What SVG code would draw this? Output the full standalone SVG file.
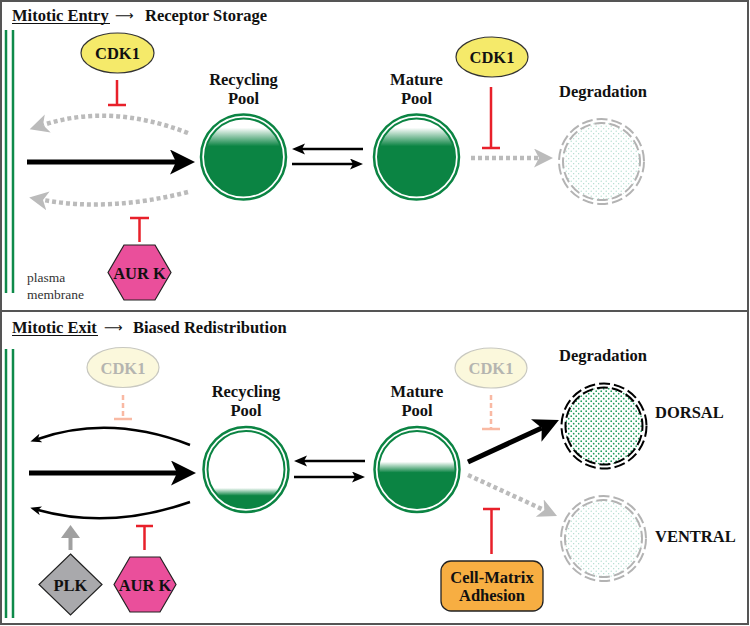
<svg xmlns="http://www.w3.org/2000/svg" width="750" height="626" viewBox="0 0 750 626">
<style>
.t{font-family:"Liberation Serif","Times New Roman",serif;font-weight:bold;font-size:16.5px;fill:#111}
.c{text-anchor:middle}
.arr{font-family:"DejaVu Sans",sans-serif;font-size:13px;fill:#111}
.sm{font-family:"Liberation Serif","Times New Roman",serif;font-size:13.5px;fill:#333}
.mem{stroke:#0e8a4a;stroke-width:2.5;fill:none}
.ring{fill:none;stroke:#0b8443;stroke-width:2.5}
.inner{stroke:#0b8443;stroke-width:2}
.inh{stroke:#e8202a;stroke-width:2.5;fill:none}
.inhf{stroke:#f9b9a3;stroke-width:2.5;fill:none}
.big{stroke:#000;stroke-width:5;fill:none}
.thin{stroke:#000;stroke-width:2.5;fill:none}
.dot{stroke:#bbbbbb;stroke-width:4.5;stroke-dasharray:4 3;fill:none}
.dg{fill:none;stroke:#b3b3b3;stroke-width:2;stroke-dasharray:11 4}
.db{fill:none;stroke:#000;stroke-width:2;stroke-dasharray:11 4}
.cdk{fill:#f5ea6a;stroke:#333;stroke-width:1.2}
.cdkf{fill:#fbf8dc;stroke:#c8c8c0;stroke-width:1.2}
.aur{fill:#ea4f9b;stroke:#222;stroke-width:1.2}
</style>
<defs>
<linearGradient id="gTop" x1="0" y1="0" x2="0" y2="1">
<stop offset="0.12" stop-color="#fff"/><stop offset="0.36" stop-color="#0b8443"/><stop offset="1" stop-color="#0b8443"/>
</linearGradient>
<linearGradient id="gRec2" x1="0" y1="0" x2="0" y2="1">
<stop offset="0.74" stop-color="#fff"/><stop offset="0.84" stop-color="#0b8443"/><stop offset="1" stop-color="#0b8443"/>
</linearGradient>
<linearGradient id="gMat2" x1="0" y1="0" x2="0" y2="1">
<stop offset="0.4" stop-color="#fff"/><stop offset="0.54" stop-color="#0b8443"/><stop offset="1" stop-color="#0b8443"/>
</linearGradient>
<pattern id="stipG" width="5" height="5" patternUnits="userSpaceOnUse">
<rect width="5" height="5" fill="#fff"/>
<circle cx="1.2" cy="1.2" r="0.6" fill="#9fd6c4"/><circle cx="3.7" cy="3.7" r="0.6" fill="#9fd6c4"/>
</pattern>
<pattern id="stipD" width="5" height="5" patternUnits="userSpaceOnUse">
<rect width="5" height="5" fill="#fff"/>
<circle cx="1.2" cy="1.2" r="0.85" fill="#1a9a5a"/><circle cx="3.7" cy="3.7" r="0.85" fill="#1a9a5a"/>
</pattern>
<marker id="bigHead" markerUnits="userSpaceOnUse" markerWidth="26" markerHeight="26" refX="6" refY="12.5" orient="auto">
<path d="M0,0 L25,12.5 L0,25 L6,12.5 z" fill="#000"/>
</marker>
<marker id="smallHead" markerUnits="userSpaceOnUse" markerWidth="14" markerHeight="12" refX="3" refY="5.5" orient="auto">
<path d="M0,0 L13,5.5 L0,11 L3,5.5 z" fill="#000"/>
</marker>
<marker id="arcHead" markerUnits="userSpaceOnUse" markerWidth="12" markerHeight="10" refX="3" refY="4.5" orient="auto">
<path d="M0,0 L11,4.5 L0,9 L3,4.5 z" fill="#000"/>
</marker>
<marker id="greyHead" markerUnits="userSpaceOnUse" markerWidth="20" markerHeight="20" refX="5" refY="9.5" orient="auto">
<path d="M0,0 L19,9.5 L0,19 L5,9.5 z" fill="#bbbbbb"/>
</marker>
</defs>

<rect x="1" y="1" width="747" height="623" fill="#fff" stroke="#555" stroke-width="2"/>
<line x1="1" y1="311" x2="748" y2="311" stroke="#555" stroke-width="2"/>

<!-- Panel 1 -->
<g id="title1">
<text class="t" x="12" y="21">Mitotic Entry</text>
<line x1="12" y1="23.5" x2="110" y2="23.5" stroke="#111" stroke-width="1.2"/>
<text class="arr" x="115" y="20">⟶</text>
<text class="t" x="145" y="21">Receptor Storage</text>
</g>
<g id="membrane1">
<line class="mem" x1="6" y1="30" x2="6" y2="293"/>
<line class="mem" x1="13" y1="30" x2="13" y2="293"/>
<text class="sm" x="27" y="282">plasma</text>
<text class="sm" x="27" y="299">membrane</text>
</g>
<g id="cdk1-a">
<ellipse class="cdk" cx="117.5" cy="53" rx="36.5" ry="20"/>
<text class="t c" x="117.5" y="59">CDK1</text>
</g>
<g id="aurk-a">
<polygon class="aur" points="108,272.5 124,245 155,245 171,272.5 155,300 124,300"/>
<text class="t c" x="139.5" y="278.5">AUR K</text>
</g>
<g id="recycling-a">
<text class="t c" x="243.5" y="85">Recycling</text>
<text class="t c" x="243.5" y="104">Pool</text>
<circle class="ring" cx="243.5" cy="157" r="42.5"/>
<circle class="inner" cx="243.5" cy="157" r="38.5" fill="url(#gTop)"/>
</g>
<g id="mature-a">
<text class="t c" x="416.5" y="85">Mature</text>
<text class="t c" x="416.5" y="104">Pool</text>
<circle class="ring" cx="416.5" cy="157" r="42.5"/>
<circle class="inner" cx="416.5" cy="157" r="38.5" fill="url(#gTop)"/>
</g>
<g id="cdk1-b">
<ellipse class="cdk" cx="492" cy="57" rx="36" ry="20"/>
<text class="t c" x="492" y="63">CDK1</text>
</g>
<g id="degradation-a">
<text class="t c" x="603" y="97">Degradation</text>
<circle cx="601.5" cy="161.5" r="39" fill="url(#stipG)"/>
<circle class="dg" cx="601.5" cy="161.5" r="42.5"/>
<circle class="dg" cx="601.5" cy="161.5" r="38.5" stroke-dashoffset="6"/>
</g>

<g id="connectors1">
<path class="dot" d="M188,133 Q110,103 43,125" marker-end="url(#greyHead)"/>
<path class="dot" d="M188,192 Q110,212 43,200" marker-end="url(#greyHead)"/>
<path class="big" d="M27,162 L176,162" marker-end="url(#bigHead)"/>
<path class="thin" d="M363,149 L302,149" marker-end="url(#smallHead)"/>
<path class="thin" d="M292,164 L353,164" marker-end="url(#smallHead)"/>
<path class="dot" d="M471,158 L539,158" marker-end="url(#greyHead)"/>
<path class="inh" d="M117,80 V105 M108,105 H126"/>
<path class="inh" d="M139.5,242 V218 M130,218 H149"/>
<path class="inh" d="M491,87 V148 M482,148 H500"/>
</g>

<!-- Panel 2 -->
<g id="title2">
<text class="t" x="12" y="333">Mitotic Exit</text>
<line x1="12" y1="335.5" x2="98" y2="335.5" stroke="#111" stroke-width="1.2"/>
<text class="arr" x="104" y="332">⟶</text>
<text class="t" x="133" y="333">Biased Redistribution</text>
</g>
<g id="membrane2">
<line class="mem" x1="6" y1="349" x2="6" y2="618"/>
<line class="mem" x1="13" y1="349" x2="13" y2="618"/>
</g>
<g id="cdk1-c">
<ellipse class="cdkf" cx="123" cy="367.5" rx="36" ry="20"/>
<text class="t c" x="123" y="373.5" style="fill:#b5b5b0">CDK1</text>
</g>
<g id="plk">
<polygon points="70.5,554 102,584.5 70.5,615 39,584.5" fill="#a9a9ac" stroke="#222" stroke-width="1.2"/>
<text class="t c" x="70.5" y="590.5">PLK</text>
</g>
<g id="aurk-b">
<polygon class="aur" points="114,584.5 130,557 160,557 176,584.5 160,612 130,612"/>
<text class="t c" x="145" y="590.5">AUR K</text>
</g>
<g id="recycling-b">
<text class="t c" x="246" y="397">Recycling</text>
<text class="t c" x="246" y="416">Pool</text>
<circle class="ring" cx="246" cy="469.5" r="42.5"/>
<circle class="inner" cx="246" cy="469.5" r="38.5" fill="url(#gRec2)"/>
</g>
<g id="mature-b">
<text class="t c" x="417" y="397">Mature</text>
<text class="t c" x="417" y="416">Pool</text>
<circle class="ring" cx="417" cy="469.5" r="42.5"/>
<circle class="inner" cx="417" cy="469.5" r="38.5" fill="url(#gMat2)"/>
</g>
<g id="cdk1-d">
<ellipse class="cdkf" cx="491" cy="368" rx="36" ry="20"/>
<text class="t c" x="491" y="374" style="fill:#b5b5b0">CDK1</text>
</g>
<g id="degradation-b">
<text class="t c" x="603" y="361">Degradation</text>
</g>
<g id="dorsal">
<circle cx="604" cy="426" r="39" fill="url(#stipD)"/>
<circle class="db" cx="604" cy="426" r="42.5"/>
<circle class="db" cx="604" cy="426" r="38.5" stroke-dashoffset="6"/>
<text class="t" x="655" y="418">DORSAL</text>
</g>
<g id="ventral">
<circle cx="603.5" cy="538.5" r="39" fill="url(#stipG)"/>
<circle class="dg" cx="603.5" cy="538.5" r="42.5"/>
<circle class="dg" cx="603.5" cy="538.5" r="38.5" stroke-dashoffset="6"/>
<text class="t" x="655" y="542">VENTRAL</text>
</g>
<g id="adhesion">
<rect x="441" y="561" width="102" height="50" rx="10" fill="#f7ae42" stroke="#222" stroke-width="1.3"/>
<text class="t c" x="492" y="583">Cell-Matrix</text>
<text class="t c" x="492" y="601">Adhesion</text>
</g>

<g id="connectors2">
<path class="thin" d="M190,445 Q110,414 38,439" marker-end="url(#arcHead)"/>
<path class="thin" d="M190,502 Q110,530 38,510" marker-end="url(#arcHead)"/>
<path class="big" d="M29,473 L177,473" marker-end="url(#bigHead)"/>
<path class="thin" d="M365,461 L304,461" marker-end="url(#smallHead)"/>
<path class="thin" d="M294,477 L355,477" marker-end="url(#smallHead)"/>
<path class="big" d="M468,462 L541.7,428" marker-end="url(#bigHead)"/>
<path class="dot" d="M468,475 L544.3,510.1" marker-end="url(#greyHead)"/>
<path d="M70.5,550 V537" stroke="#a0a0a0" stroke-width="4" fill="none"/>
<polygon points="61,538 80,538 70.5,525" fill="#a0a0a0"/>
<path class="inhf" d="M123,395 V419" stroke-dasharray="5 3"/>
<path class="inhf" d="M114,419 H132"/>
<path class="inhf" d="M491,395 V429" stroke-dasharray="5 3"/>
<path class="inhf" d="M482,429 H500"/>
<path class="inh" d="M144.5,550 V526 M136,526 H153"/>
<path class="inh" d="M491.5,554 V509 M483,509 H500"/>
</g>
</svg>
